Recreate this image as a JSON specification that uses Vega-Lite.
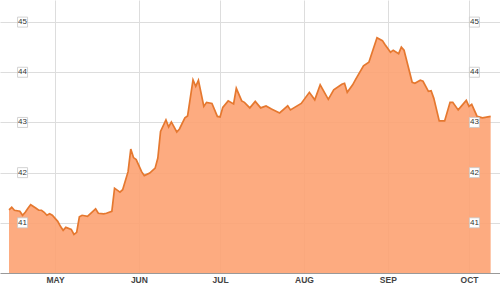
{
  "$schema": "https://vega.github.io/schema/vega-lite/v6.json",
  "width": 500,
  "height": 273,
  "autosize": {"type": "none"},
  "padding": {"left": 0, "top": 0, "right": 0, "bottom": 11},
  "background": "white",
  "config": {"view": {"stroke": null}},
  "datasets": {
    "price": [
      {"date": "2014-04-14", "close": 41.26},
      {"date": "2014-04-15", "close": 41.31},
      {"date": "2014-04-16", "close": 41.25},
      {"date": "2014-04-18", "close": 41.23},
      {"date": "2014-04-19", "close": 41.15},
      {"date": "2014-04-20", "close": 41.21},
      {"date": "2014-04-21", "close": 41.29},
      {"date": "2014-04-22", "close": 41.36},
      {"date": "2014-04-24", "close": 41.29},
      {"date": "2014-04-25", "close": 41.25},
      {"date": "2014-04-26", "close": 41.25},
      {"date": "2014-04-27", "close": 41.21},
      {"date": "2014-04-28", "close": 41.15},
      {"date": "2014-04-29", "close": 41.18},
      {"date": "2014-04-30", "close": 41.15},
      {"date": "2014-05-02", "close": 41.03},
      {"date": "2014-05-03", "close": 40.93},
      {"date": "2014-05-04", "close": 40.85},
      {"date": "2014-05-05", "close": 40.91},
      {"date": "2014-05-07", "close": 40.87},
      {"date": "2014-05-08", "close": 40.77},
      {"date": "2014-05-09", "close": 40.81},
      {"date": "2014-05-10", "close": 41.12},
      {"date": "2014-05-11", "close": 41.15},
      {"date": "2014-05-13", "close": 41.13},
      {"date": "2014-05-15", "close": 41.23},
      {"date": "2014-05-16", "close": 41.28},
      {"date": "2014-05-17", "close": 41.19},
      {"date": "2014-05-19", "close": 41.18},
      {"date": "2014-05-20", "close": 41.19},
      {"date": "2014-05-22", "close": 41.23},
      {"date": "2014-05-23", "close": 41.69},
      {"date": "2014-05-25", "close": 41.61},
      {"date": "2014-05-26", "close": 41.66},
      {"date": "2014-05-28", "close": 42.02},
      {"date": "2014-05-29", "close": 42.47},
      {"date": "2014-05-30", "close": 42.30},
      {"date": "2014-05-31", "close": 42.26},
      {"date": "2014-06-02", "close": 42.02},
      {"date": "2014-06-03", "close": 41.94},
      {"date": "2014-06-05", "close": 41.99},
      {"date": "2014-06-07", "close": 42.09},
      {"date": "2014-06-08", "close": 42.29},
      {"date": "2014-06-09", "close": 42.82},
      {"date": "2014-06-11", "close": 43.05},
      {"date": "2014-06-12", "close": 42.91},
      {"date": "2014-06-13", "close": 43.01},
      {"date": "2014-06-15", "close": 42.81},
      {"date": "2014-06-16", "close": 42.87},
      {"date": "2014-06-18", "close": 43.09},
      {"date": "2014-06-19", "close": 43.13},
      {"date": "2014-06-21", "close": 43.85},
      {"date": "2014-06-22", "close": 43.72},
      {"date": "2014-06-23", "close": 43.84},
      {"date": "2014-06-25", "close": 43.32},
      {"date": "2014-06-26", "close": 43.40},
      {"date": "2014-06-28", "close": 43.38},
      {"date": "2014-06-30", "close": 43.12},
      {"date": "2014-07-01", "close": 43.11},
      {"date": "2014-07-02", "close": 43.30},
      {"date": "2014-07-04", "close": 43.43},
      {"date": "2014-07-06", "close": 43.37},
      {"date": "2014-07-07", "close": 43.68},
      {"date": "2014-07-09", "close": 43.43},
      {"date": "2014-07-10", "close": 43.40},
      {"date": "2014-07-12", "close": 43.29},
      {"date": "2014-07-14", "close": 43.42},
      {"date": "2014-07-16", "close": 43.29},
      {"date": "2014-07-18", "close": 43.33},
      {"date": "2014-07-20", "close": 43.27},
      {"date": "2014-07-23", "close": 43.19},
      {"date": "2014-07-26", "close": 43.33},
      {"date": "2014-07-27", "close": 43.25},
      {"date": "2014-07-31", "close": 43.38},
      {"date": "2014-08-03", "close": 43.60},
      {"date": "2014-08-05", "close": 43.45},
      {"date": "2014-08-07", "close": 43.75},
      {"date": "2014-08-10", "close": 43.46},
      {"date": "2014-08-12", "close": 43.65},
      {"date": "2014-08-15", "close": 43.76},
      {"date": "2014-08-16", "close": 43.78},
      {"date": "2014-08-17", "close": 43.60},
      {"date": "2014-08-19", "close": 43.75},
      {"date": "2014-08-20", "close": 43.85},
      {"date": "2014-08-23", "close": 44.13},
      {"date": "2014-08-25", "close": 44.20},
      {"date": "2014-08-28", "close": 44.69},
      {"date": "2014-08-30", "close": 44.63},
      {"date": "2014-08-31", "close": 44.55},
      {"date": "2014-09-02", "close": 44.40},
      {"date": "2014-09-03", "close": 44.44},
      {"date": "2014-09-05", "close": 44.37},
      {"date": "2014-09-06", "close": 44.50},
      {"date": "2014-09-07", "close": 44.44},
      {"date": "2014-09-10", "close": 43.80},
      {"date": "2014-09-11", "close": 43.78},
      {"date": "2014-09-13", "close": 43.84},
      {"date": "2014-09-14", "close": 43.82},
      {"date": "2014-09-16", "close": 43.62},
      {"date": "2014-09-17", "close": 43.63},
      {"date": "2014-09-18", "close": 43.48},
      {"date": "2014-09-20", "close": 43.03},
      {"date": "2014-09-22", "close": 43.03},
      {"date": "2014-09-24", "close": 43.40},
      {"date": "2014-09-25", "close": 43.40},
      {"date": "2014-09-27", "close": 43.25},
      {"date": "2014-09-30", "close": 43.44},
      {"date": "2014-10-01", "close": 43.32},
      {"date": "2014-10-02", "close": 43.36},
      {"date": "2014-10-04", "close": 43.12},
      {"date": "2014-10-06", "close": 43.09},
      {"date": "2014-10-09", "close": 43.12}
    ],
    "ticks": [{"v": 41}, {"v": 42}, {"v": 43}, {"v": 44}, {"v": 45}]
  },
  "layer": [
    {
      "data": {"name": "price"},
      "mark": {
        "type": "area",
        "clip": true,
        "color": "#FDA272",
        "fillOpacity": 0.9,
        "line": {"color": "#E5782F", "strokeWidth": 1.7}
      },
      "encoding": {
        "x": {
          "field": "date",
          "type": "temporal",
          "scale": {
            "type": "utc",
            "domain": [
              {"year": 2014, "month": 4, "date": 10, "hours": 16, "utc": true},
              {"year": 2014, "month": 10, "date": 12, "hours": 11, "utc": true}
            ]
          },
          "axis": {
            "title": null,
            "values": [
              {"year": 2014, "month": 5, "date": 1, "utc": true},
              {"year": 2014, "month": 6, "date": 1, "utc": true},
              {"year": 2014, "month": 7, "date": 1, "utc": true},
              {"year": 2014, "month": 8, "date": 1, "utc": true},
              {"year": 2014, "month": 9, "date": 1, "utc": true},
              {"year": 2014, "month": 10, "date": 1, "utc": true}
            ],
            "labelExpr": "upper(utcFormat(datum.value, '%b'))",
            "grid": true,
            "gridColor": "#dddddd",
            "gridWidth": 1,
            "ticks": false,
            "domainColor": "#999999",
            "labelFont": "Liberation Sans",
            "labelFontSize": 8.5,
            "labelFontWeight": "bold",
            "labelColor": "#444444",
            "labelPadding": 2
          }
        },
        "y": {
          "field": "close",
          "type": "quantitative",
          "scale": {"domain": [40, 45.44], "nice": false, "zero": false},
          "axis": {
            "title": null,
            "values": [41, 42, 43, 44, 45],
            "labels": false,
            "ticks": false,
            "domain": false,
            "grid": true,
            "gridColor": "#dddddd",
            "gridWidth": 1
          }
        }
      }
    },
    {
      "data": {"name": "ticks"},
      "mark": {"type": "square", "filled": true, "fill": "white", "stroke": "#c8c8c8", "strokeWidth": 0.8, "size": 100, "opacity": 1},
      "encoding": {
        "x": {"datum": {"year": 2014, "month": 4, "date": 19, "utc": true}, "type": "temporal"},
        "y": {"field": "v", "type": "quantitative"}
      }
    },
    {
      "data": {"name": "ticks"},
      "mark": {"type": "text", "font": "Liberation Sans", "fontSize": 8, "color": "#333333", "align": "center", "baseline": "middle"},
      "encoding": {
        "x": {"datum": {"year": 2014, "month": 4, "date": 19, "utc": true}, "type": "temporal"},
        "y": {"field": "v", "type": "quantitative"},
        "text": {"field": "v", "type": "quantitative"}
      }
    },
    {
      "data": {"name": "ticks"},
      "mark": {"type": "square", "filled": true, "fill": "white", "stroke": "#c8c8c8", "strokeWidth": 0.8, "size": 100, "opacity": 1},
      "encoding": {
        "x": {"datum": {"year": 2014, "month": 10, "date": 3, "utc": true}, "type": "temporal"},
        "y": {"field": "v", "type": "quantitative"}
      }
    },
    {
      "data": {"name": "ticks"},
      "mark": {"type": "text", "font": "Liberation Sans", "fontSize": 8, "color": "#333333", "align": "center", "baseline": "middle"},
      "encoding": {
        "x": {"datum": {"year": 2014, "month": 10, "date": 3, "utc": true}, "type": "temporal"},
        "y": {"field": "v", "type": "quantitative"},
        "text": {"field": "v", "type": "quantitative"}
      }
    }
  ]
}
